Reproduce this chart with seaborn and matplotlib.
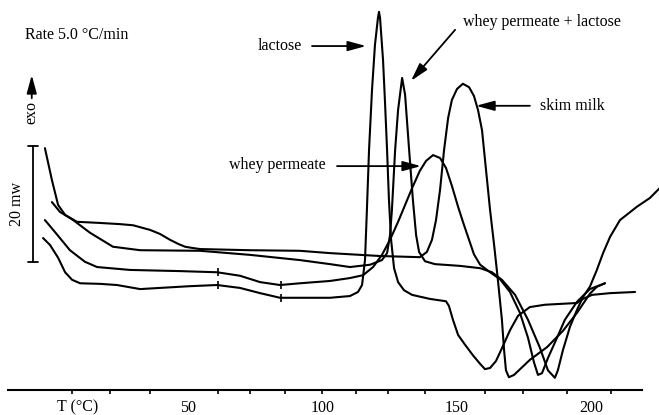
import numpy as np
import pandas as pd
import matplotlib
matplotlib.use("Agg")
import matplotlib.pyplot as plt
import seaborn as sns

# DSC scans, heat flow in mW (exo up), temperature in °C
skim_T = [-3.2, -0.6, 1.7, 4.3, 8.7, 17.3, 24.7, 29.6, 35.9, 39.6, 43.3, 46.3, 48.9, 51.5,
          54.5, 73.0, 91.6,
          102.8, 121.4, 136.2, 138.8, 140.7, 142.2, 143.7, 145.2, 146.7, 148.1, 150.0,
          152.2, 154.5, 156.3, 157.8, 159.3, 160.8, 162.3, 163.8, 165.2, 166.7, 167.5,
          168.2, 169.3, 171.2, 177.1, 183.5, 189.4, 194.6, 199.4, 202.0, 205.0]
skim_mW = [41.7, 36.2, 31.9, 30.2, 29.0, 28.8, 28.6, 28.4, 27.6, 26.9, 25.9, 25.2, 24.7, 24.5,
           24.3, 24.1, 24.0,
           23.6, 23.1, 22.9, 23.8, 25.9, 29.3, 34.5, 41.4, 46.9, 50.0, 51.9,
           52.8, 52.2, 50.7, 48.3, 44.8, 37.9, 31.0, 25.0, 19.0, 12.1, 6.9,
           3.4, 2.2, 2.6, 5.2, 7.4, 10.2, 13.3, 16.6, 17.8, 18.4]

mix_T = [-0.6, 2.4, 7.3, 13.6, 22.1, 32.2, 54.5, 73.0, 91.6, 102.8, 110.2, 117.7, 122.1,
         124.0, 125.1, 125.8, 127.0, 128.1, 129.6, 130.7, 132.2, 133.6, 134.8, 135.9,
         138.1, 141.8, 151.1, 158.6, 163.0, 166.7, 171.6, 176.4, 180.9, 183.8, 186.4,
         187.5, 189.4, 192.0, 194.6, 196.8, 199.4, 202.0, 204.3, 206.9, 210.6, 216.9,
         221.7, 226.2]
mix_mW = [32.4, 30.7, 29.3, 27.1, 24.7, 24.1, 24.0, 23.3, 22.4, 21.7, 21.2, 21.6, 22.4,
          23.6, 26.7, 31.0, 41.4, 48.3, 53.8, 50.9, 41.4, 32.8, 26.7, 23.8,
          22.2, 21.7, 21.4, 21.0, 20.3, 19.0, 16.4, 12.1, 7.2, 3.4, 2.1,
          3.4, 6.9, 10.9, 13.8, 16.0, 17.8, 20.7, 23.6, 26.4, 29.3, 31.6,
          33.1, 35.2]

perm_T = [-3.2, 0.6, 6.1, 11.7, 16.2, 28.4, 47.0, 60.8, 69.3, 76.8, 84.2, 91.6, 102.8,
          110.2, 115.1, 118.8, 122.1, 125.1, 128.1, 130.7, 133.3, 136.2, 138.5, 141.1,
          143.7, 145.9, 148.1, 150.4, 152.2, 154.1, 156.3, 158.6, 162.3, 166.0, 169.7,
          173.4, 176.4, 178.6, 180.1, 181.6, 183.8, 186.8, 190.1, 194.6, 199.4, 205.0]
perm_mW = [29.3, 27.2, 24.1, 22.1, 21.2, 20.7, 20.5, 20.3, 19.7, 18.6, 18.1, 18.4, 18.8,
           19.3, 19.8, 21.2, 23.3, 25.9, 29.0, 31.9, 34.8, 37.8, 39.5, 40.5,
           40.0, 38.3, 35.2, 31.6, 29.0, 26.4, 23.4, 21.6, 20.3, 19.1, 16.9,
           13.3, 9.0, 4.8, 2.6, 2.9, 5.5, 8.6, 12.1, 15.2, 17.4, 18.4]

lac_T = [-3.9, -1.3, 1.7, 4.3, 6.9, 9.9, 17.3, 23.6, 32.2, 39.6, 50.7, 60.8, 69.3, 76.8,
         84.2, 91.6, 102.8, 110.2, 113.2, 114.7, 115.8, 116.5, 117.3, 118.4, 119.5,
         120.6, 121.0, 121.4, 122.5, 123.2, 124.0, 124.7, 125.5, 126.6, 128.1, 130.3,
         133.3, 140.0, 145.9, 147.0, 148.5, 150.4, 153.0, 155.9, 158.6, 160.4, 162.3,
         164.5, 166.7, 169.7, 172.7, 177.1, 182.7, 194.6, 196.8, 200.2, 206.9, 216.2]
lac_mW = [26.2, 25.0, 22.8, 20.3, 19.0, 18.4, 18.3, 18.1, 17.4, 17.6, 17.9, 18.1, 17.6, 16.7,
          15.9, 15.9, 15.9, 16.2, 16.9, 18.1, 22.4, 31.0, 41.4, 51.7, 59.5,
          64.1, 65.2, 64.1, 56.9, 50.0, 41.4, 32.8, 25.9, 21.0, 18.6, 17.2,
          16.4, 15.7, 15.3, 14.5, 12.1, 9.5, 7.8, 6.0, 4.5, 3.6, 3.8,
          5.0, 7.2, 10.3, 12.8, 14.3, 14.7, 15.0, 15.7, 16.4, 16.7, 16.9]

# temperatures where the recorder left small marks on two traces
mark_T = [61.2, 84.6]

# x axis
minor_ticks = [6.9, 21.0, 35.9, 50.0, 61.2, 73.0, 86.1, 99.8, 112.5, 124.4, 138.1,
               150.0, 160.4, 174.5, 190.9, 207.2]
label_pos = [8.9, 50, 100, 150, 200]
label_txt = ["T (°C)", "50", "100", "150", "200"]

sns.set_theme(style="white")
plt.rcParams["font.family"] = ["Liberation Serif", "DejaVu Serif"]
plt.rcParams["text.color"] = "black"

fig = plt.figure(figsize=(6.59, 4.15), dpi=100)
ax = fig.add_axes([0, 0, 1, 1])
ax.set_xlim(-19.9, 225.1)
ax.set_ylim(-4.31, 67.24)

curves = [(skim_T, skim_mW), (mix_T, mix_mW), (perm_T, perm_mW), (lac_T, lac_mW)]
for T, q in curves:
    sns.lineplot(x=T, y=q, ax=ax, color="black", linewidth=1.5,
                 sort=False, estimator=None, solid_joinstyle="round",
                 solid_capstyle="round")

for T, q in [(perm_T, perm_mW), (lac_T, lac_mW)]:
    my = np.interp(mark_T, T, q)
    ax.plot(mark_T, my, linestyle="none", marker="|", markersize=6,
            markeredgewidth=1.2, color="black")

for s in ["left", "right", "top"]:
    ax.spines[s].set_visible(False)
sp = ax.spines["bottom"]
sp.set_position(("data", 0))
sp.set_bounds(-16.9, 218.8)
sp.set_linewidth(1.5)
sp.set_color("black")

ax.set_yticks([])
ax.set_xticks(label_pos, labels=label_txt)
ax.set_xticks(minor_ticks, minor=True)
ax.tick_params(axis="x", which="major", length=0, pad=7, labelsize=11.5,
               labelcolor="black", bottom=True)
ax.tick_params(axis="x", which="minor", length=3, width=1.2, direction="out",
               color="black", bottom=True)
ax.set_xlabel("")
ax.set_ylabel("")
ax.grid(False)

fs = 11.5
arrow = dict(arrowstyle="-|>,head_length=1.1,head_width=0.3", color="black",
             lw=1.3, shrinkA=0, shrinkB=0, mutation_scale=10)

ax.text(-10.6, 61.2, "Rate 5.0 °C/min", fontsize=fs, ha="left", va="center")

ax.text(92.4, 59.3, "lactose", fontsize=fs, ha="right", va="center")
ax.annotate("", xy=(116.2, 59.3), xytext=(96.1, 59.3), arrowprops=arrow)

ax.text(181.6, 63.4, "whey permeate + lactose", fontsize=fs, ha="center", va="center")
ax.annotate("", xy=(132.9, 53.3), xytext=(149.3, 62.1), arrowprops=arrow)

ax.text(192.8, 49.0, "skim milk", fontsize=fs, ha="center", va="center")
ax.annotate("", xy=(157.1, 49.0), xytext=(177.1, 49.0), arrowprops=arrow)

ax.text(83.3, 38.8, "whey permeate", fontsize=fs, ha="center", va="center")
ax.annotate("", xy=(136.6, 38.6), xytext=(105.4, 38.6), arrowprops=arrow)

# exo direction and 20 mW scale bar
ax.text(-8.4, 47.9, "exo", fontsize=fs, rotation=90, ha="center", va="center")
ax.annotate("", xy=(-8.1, 54.3), xytext=(-8.1, 50.3), arrowprops=arrow)
ax.plot([-7.6, -7.6], [22.0, 42.0], color="black", lw=1.3)
ax.plot([-9.5, -5.7], [42.0, 42.0], color="black", lw=1.3)
ax.plot([-9.5, -5.7], [22.0, 22.0], color="black", lw=1.3)
ax.text(-13.4, 32.0, "20 mw", fontsize=fs, rotation=90, ha="center", va="center")

fig.savefig("out.png", dpi=100)
